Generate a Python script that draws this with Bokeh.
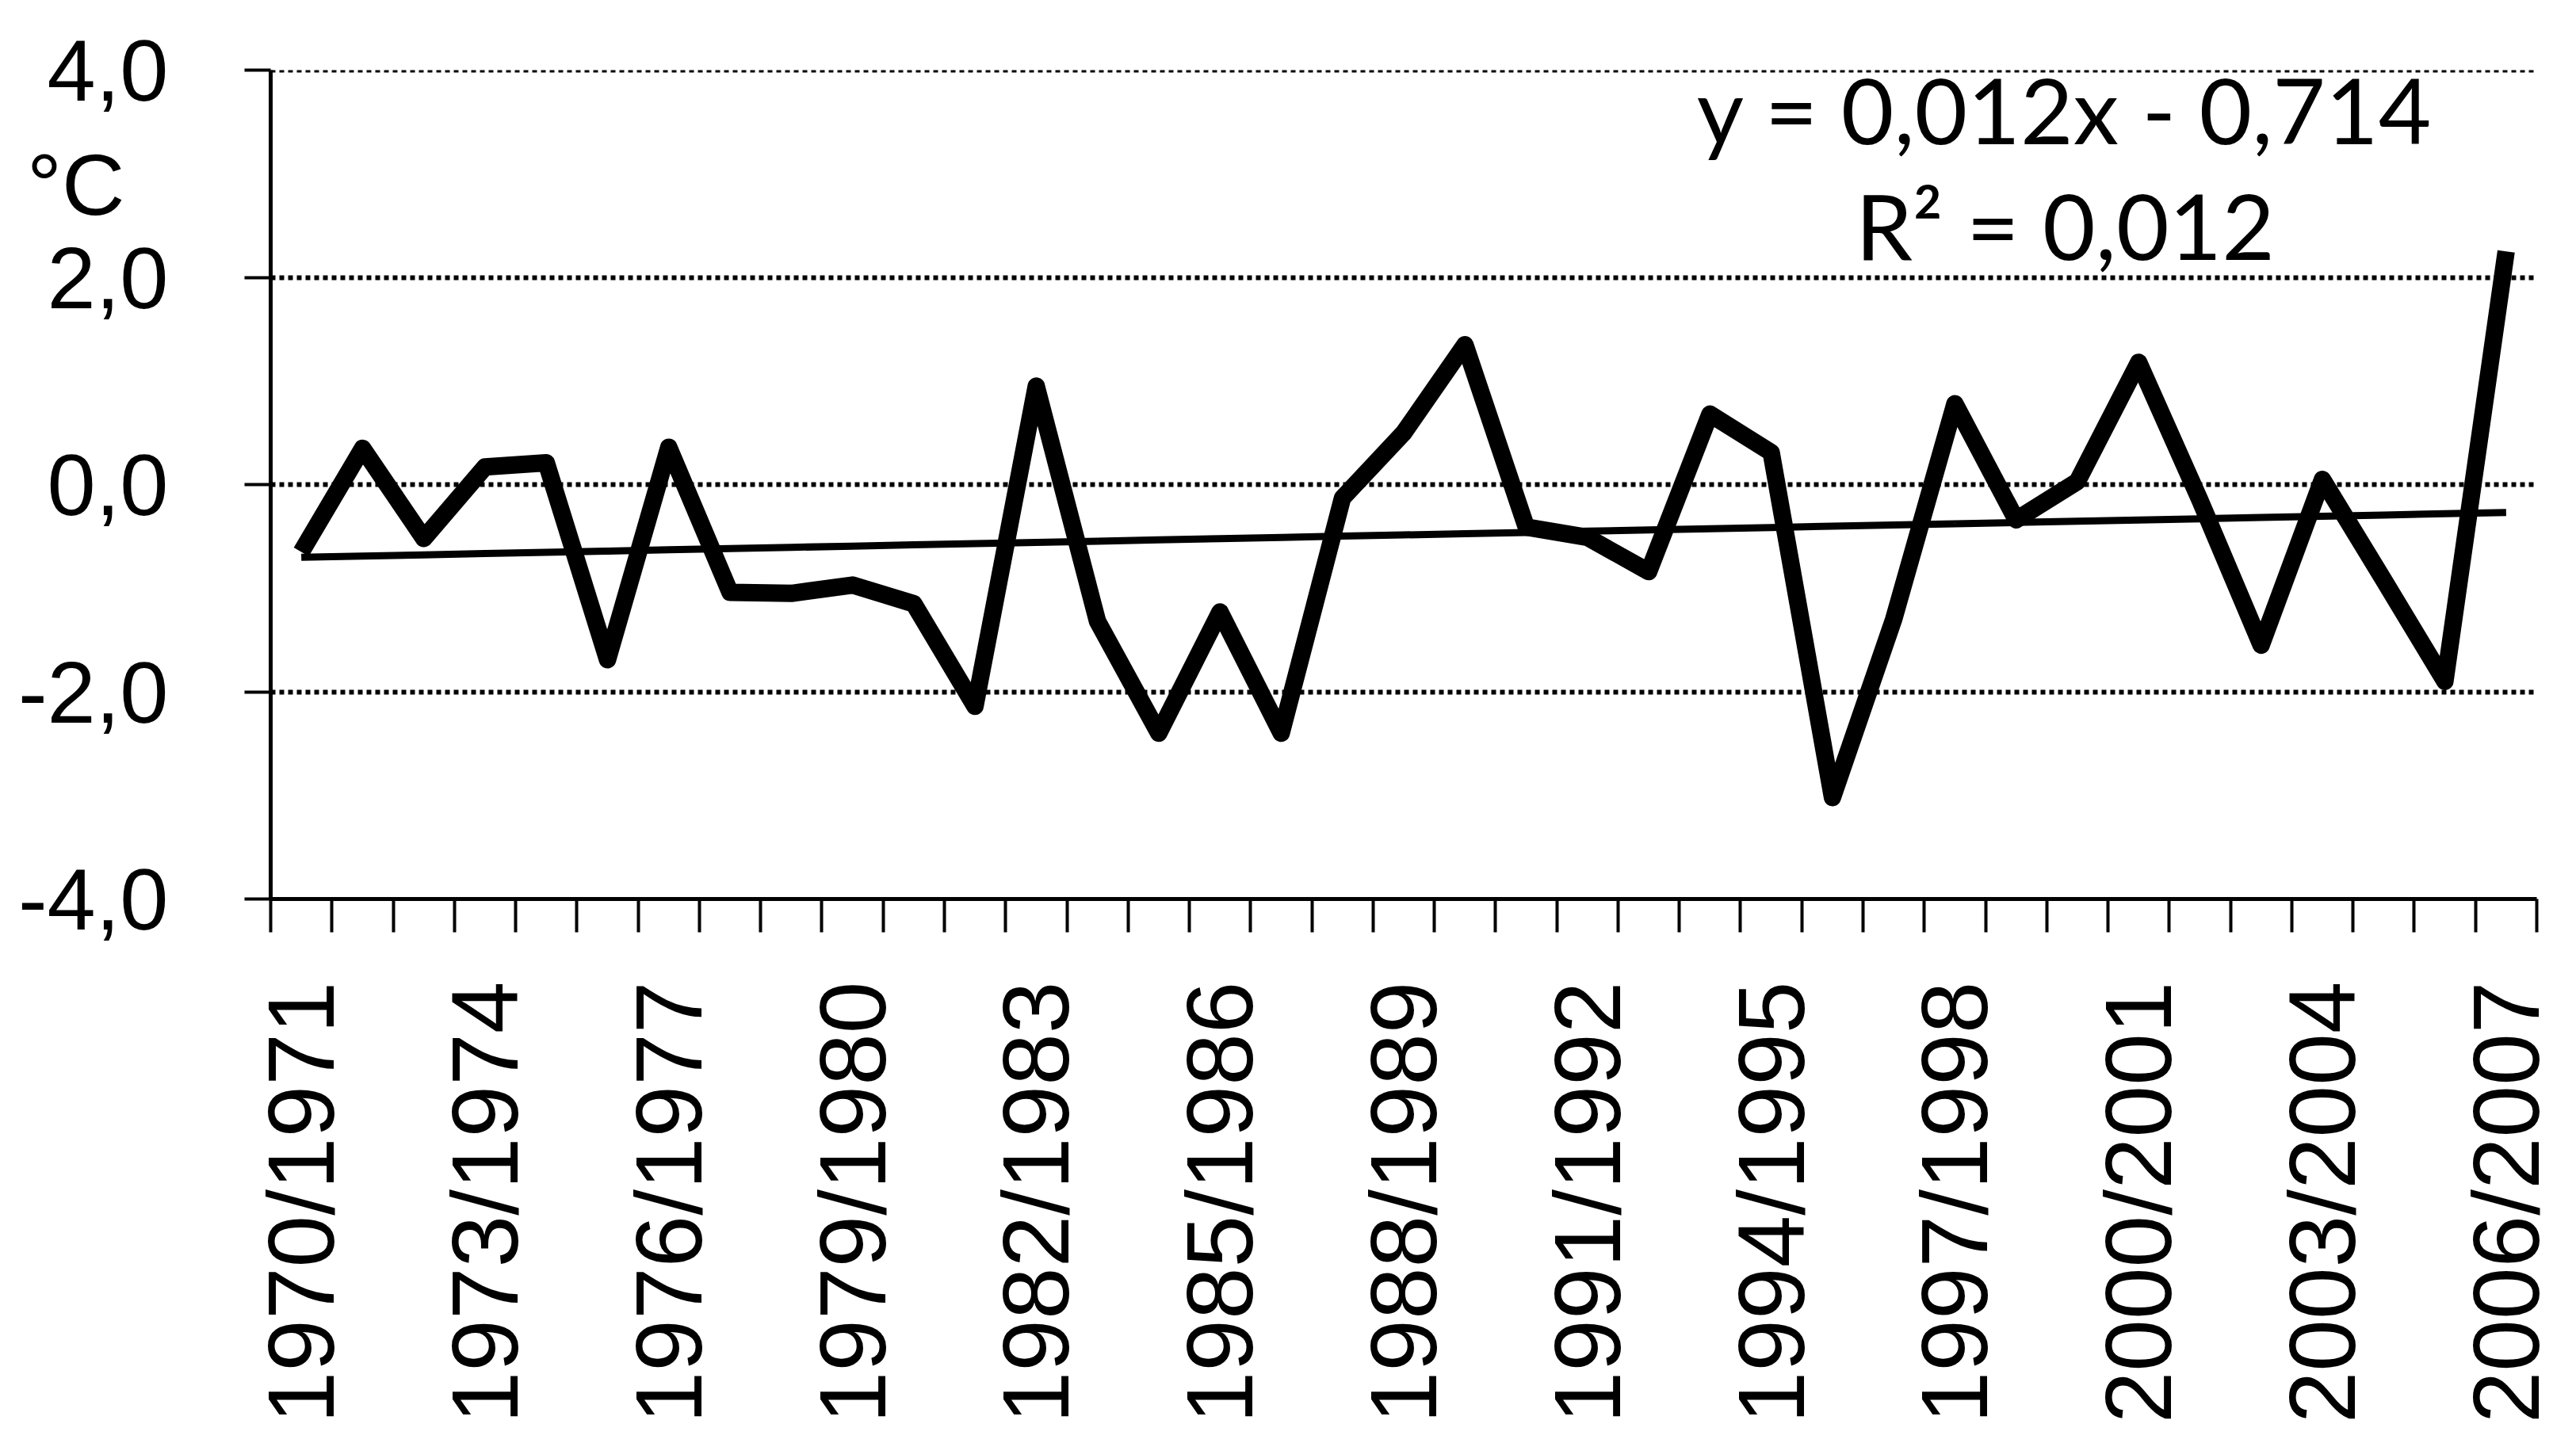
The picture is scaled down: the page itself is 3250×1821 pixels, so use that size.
import numpy as np
from bokeh.plotting import figure
from bokeh.models import Range1d, FixedTicker, Label, Span
from bokeh.embed import file_html
from bokeh.resources import INLINE

# ---------------- data ----------------
seasons = [
    "1970/1971", "1971/1972", "1972/1973", "1973/1974", "1974/1975", "1975/1976",
    "1976/1977", "1977/1978", "1978/1979", "1979/1980", "1980/1981", "1981/1982",
    "1982/1983", "1983/1984", "1984/1985", "1985/1986", "1986/1987", "1987/1988",
    "1988/1989", "1989/1990", "1990/1991", "1991/1992", "1992/1993", "1993/1994",
    "1994/1995", "1995/1996", "1996/1997", "1997/1998", "1998/1999", "1999/2000",
    "2000/2001", "2001/2002", "2002/2003", "2003/2004", "2004/2005", "2005/2006",
    "2006/2007",
]
temp_anomaly = [
    -0.65, 0.35, -0.52, 0.17, 0.21, -1.69, 0.36, -1.04, -1.05, -0.97,
    -1.15, -2.14, 0.95, -1.32, -2.40, -1.23, -2.40, -0.13, 0.50, 1.35,
    -0.41, -0.51, -0.84, 0.68, 0.31, -3.02, -1.30, 0.78, -0.34, 0.03,
    1.18, -0.15, -1.55, 0.05, -0.92, -1.90, 2.25,
]
y_ticks = [-4, -2, 0, 2, 4]
y_tick_labels = ["-4,0", "-2,0", "0,0", "2,0", "4,0"]
label_step = 3
trend_slope = 0.012
trend_intercept = -0.714
trend_text = "y = 0,012x - 0,714"
r2_text = "R\u00b2 = 0,012"
unit_text = "\u00b0C\u2002"
unit_y = 2.9

# ---------------- derived ----------------
n = len(seasons)
idx = np.arange(n)
centers = idx + 0.5
trend_y = trend_slope * (idx + 1) + trend_intercept
label_pos = [float(c) for c in centers[::label_step]]
label_map = {float(c): s for c, s in zip(centers[::label_step], seasons[::label_step])}

W, H = 3230, 1800
p = figure(width=W, height=H, x_range=Range1d(0, n), y_range=Range1d(-4, 4),
           output_backend="svg", toolbar_location=None,
           min_border_left=341, min_border_right=30,
           min_border_top=88, min_border_bottom=666)
p.outline_line_color = None
p.background_fill_color = "white"
p.border_fill_color = "white"

GRID_W = 6
GRID_DASH = "6 5"

# grid
p.xgrid.visible = False
p.ygrid.ticker = FixedTicker(ticks=[t for t in y_ticks if -4 < t < 4])
p.ygrid.grid_line_color = "black"
p.ygrid.grid_line_width = GRID_W
p.ygrid.grid_line_dash = GRID_DASH
p.add_layout(Span(location=y_ticks[-1], dimension="width", line_color="black",
                  line_width=GRID_W, line_dash=GRID_DASH))

# y axis: labels on major ticks (incl. the unit), visible marks as minor ticks
ya = p.yaxis[0]
ya.ticker = FixedTicker(ticks=y_ticks + [unit_y], minor_ticks=y_ticks)
overrides = dict(zip(y_ticks, y_tick_labels))
overrides[unit_y] = unit_text
ya.major_label_overrides = overrides
ya.major_label_text_font = "Liberation Sans"
ya.major_label_text_font_size = "110px"
ya.major_label_text_color = "black"
ya.major_label_standoff = 96
ya.major_tick_line_color = None
ya.major_tick_out = 0
ya.major_tick_in = 0
ya.minor_tick_out = 33
ya.minor_tick_in = 0
ya.minor_tick_line_width = 4
ya.minor_tick_line_color = "black"
ya.axis_line_width = 5
ya.axis_line_color = "black"

# x axis
xa = p.xaxis[0]
xa.ticker = FixedTicker(ticks=label_pos, minor_ticks=[float(i) for i in range(n + 1)])
xa.major_label_overrides = label_map
xa.major_label_orientation = np.pi / 2
xa.major_label_text_font = "Liberation Sans"
xa.major_label_text_font_size = "118px"
xa.major_label_text_color = "black"
xa.major_label_standoff = 62
xa.major_tick_line_color = None
xa.major_tick_out = 0
xa.major_tick_in = 0
xa.minor_tick_out = 42
xa.minor_tick_in = 0
xa.minor_tick_line_width = 4
xa.minor_tick_line_color = "black"
xa.axis_line_width = 5
xa.axis_line_color = "black"

# series and trend
p.line(x=centers, y=temp_anomaly, line_width=22, line_color="black", line_join="round")
p.line(x=centers, y=trend_y, line_width=9, line_color="black")

# equation texts
p.add_layout(Label(x=29.3, y=3.63, text=trend_text, text_align="center",
                   text_baseline="alphabetic", text_font="Lato",
                   text_font_size="115px", text_color="black"))
p.add_layout(Label(x=29.3, y=2.51, text=r2_text, text_align="center",
                   text_baseline="alphabetic", text_font="Lato",
                   text_font_size="115px", text_color="black"))

open("out.html", "w").write(file_html(p, INLINE))
